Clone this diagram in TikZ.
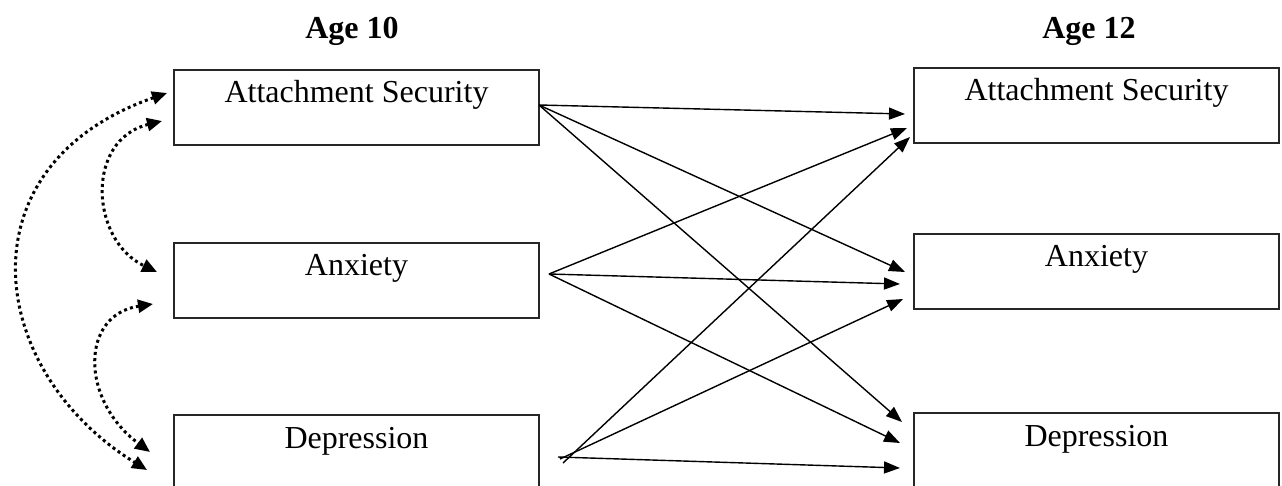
\documentclass[tikz,border=0pt]{standalone}
\usepackage{fontspec}
\setmainfont{Liberation Serif}
\usetikzlibrary{arrows.meta}
\begin{document}
\begin{tikzpicture}[x=1pt,y=-1pt,
  box/.style={draw=black!85, line width=1.6pt, minimum width=365pt, inner xsep=0pt, inner ysep=0pt,
    text height=33pt, text depth=42pt, font=\fontsize{32}{38}\selectfont},
  title/.style={anchor=base, font=\fontsize{32}{38}\selectfont\bfseries},
  path/.style={line width=1.4pt, -{Triangle[length=16pt,width=12pt]}},
  corr/.style={line width=3pt, dash pattern=on 3pt off 3.2pt,
    {Triangle[length=15pt,width=13pt]}-{Triangle[length=15pt,width=13pt]}}]
\useasboundingbox (0,0) rectangle (1282,486);
\clip (0,0) rectangle (1282,486);
% titles
\node[title] (t10) at (352,39) {Age 10};
\node[title] (t12) at (1089,39) {Age 12};
% boxes
\node[box] (las) at (356.5,107.5) {Attachment Security};
\node[box] (lan) at (356.5,280.5) {Anxiety};
\node[box] (lde) at (356.5,452.5) {Depression};
\node[box] (ras) at (1096.5,105.5) {Attachment Security};
\node[box] (ran) at (1096.5,271.5) {Anxiety};
\node[box] (rde) at (1096.5,450.5) {Depression};
% start and end points
\coordinate (s1) at (539,105);
\coordinate (s2) at (549,274);
\coordinate (s3a) at (563,463);
\coordinate (s3b) at (560,459);
\coordinate (s3c) at (558,457);
\coordinate (e11) at (905,114);
\coordinate (e12) at (905,272);
\coordinate (e13) at (902,422);
\coordinate (e21) at (907,128);
\coordinate (e22) at (900,284);
\coordinate (e23) at (900,443);
\coordinate (e31) at (910,137);
\coordinate (e32) at (903,299);
\coordinate (e33) at (900,468);
% cross-lagged paths
\draw[path] (s1) -- (e11);
\draw[path] (s1) -- (e12);
\draw[path] (s1) -- (e13);
\draw[path] (s2) -- (e21);
\draw[path] (s2) -- (e22);
\draw[path] (s2) -- (e23);
\draw[path] (s3a) -- (e31);
\draw[path] (s3b) -- (e32);
\draw[path] (s3c) -- (e33);
% correlations
\coordinate (c1a) at (167,93);
\coordinate (c1b) at (147,470);
\coordinate (c2a) at (162,121);
\coordinate (c2b) at (157,272);
\coordinate (c3a) at (153,304);
\coordinate (c3b) at (150,452);
\draw[corr] (c1a) .. controls (-40,165) and (-15,370) .. (c1b);
\draw[corr] (c2a) .. controls (85,140) and (90,240) .. (c2b);
\draw[corr] (c3a) .. controls (80,315) and (80,400) .. (c3b);
\end{tikzpicture}
\end{document}
